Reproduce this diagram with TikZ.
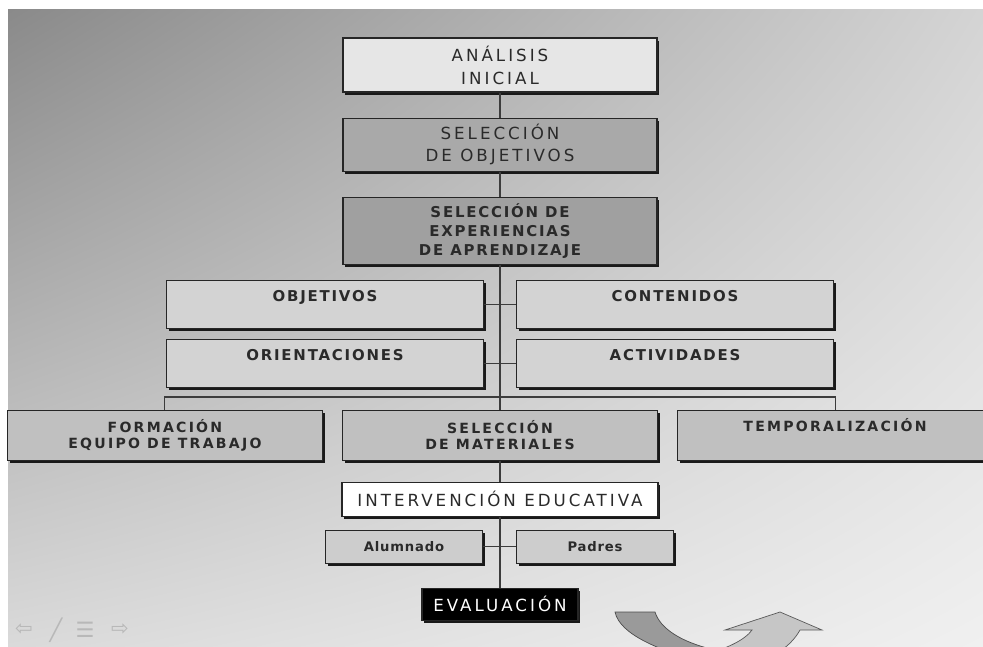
\documentclass[tikz,border=0pt]{standalone}
\usepackage{fontspec}
\setmainfont{DejaVu Sans}
\newfontfamily\lightface{DejaVu Sans}[LetterSpace=18]
\newfontfamily\heavyface{DejaVu Sans}[LetterSpace=12]
\newfontfamily\rowface{DejaVu Sans}[LetterSpace=16]
\newfontfamily\smallface{DejaVu Sans}[LetterSpace=6]
\usepackage{xcolor}
\usepackage{tikz}
\usetikzlibrary{positioning, shadows, shadings}

\definecolor{bgtl}{HTML}{8A8A8A}
\definecolor{bgtr}{HTML}{D4D4D4}
\definecolor{bgbl}{HTML}{DADADA}
\definecolor{bgbr}{HTML}{F0F0F0}
\definecolor{txtdark}{HTML}{2A2A2A}
\definecolor{boxwhite}{HTML}{E6E6E6}
\definecolor{boxmid}{HTML}{A9A9A9}
\definecolor{boxdark}{HTML}{A0A0A0}
\definecolor{boxlight}{HTML}{D3D3D3}
\definecolor{rowgrey}{HTML}{C0C0C0}
\definecolor{smallgrey}{HTML}{CDCDCD}
\definecolor{linegrey}{HTML}{3C3C3C}
\definecolor{arrowdark}{HTML}{9A9A9A}
\definecolor{arrowlight}{HTML}{C6C6C6}
\definecolor{navgrey}{HTML}{B8B8B8}

\begin{document}
\begin{tikzpicture}[node distance=0.5cm, every node/.style={text=txtdark}]
    \tikzstyle{stage} = [rectangle, draw=black!85, line width=0.6pt, minimum width=6.28cm, minimum height=1.08cm, align=center, drop shadow={shadow xshift=1.3pt, shadow yshift=-1.5pt, fill=black!90, opacity=1}]
    \tikzstyle{item} = [stage, fill=boxlight, minimum width=6.34cm, minimum height=0.96cm, inner ysep=5.67pt, text height=6.2pt, text depth=9.7pt, font={\heavyface\bfseries\fontsize{8.5}{11}\selectfont}]
    \tikzstyle{branch} = [stage, fill=rowgrey, minimum width=6.3cm, minimum height=1.0cm, font={\rowface\bfseries\fontsize{8}{8.8}\selectfont}]
    \tikzstyle{small} = [stage, fill=smallgrey, minimum width=3.14cm, minimum height=0.66cm, font={\smallface\bfseries\fontsize{7.5}{8.4}\selectfont}]
    \tikzstyle{link} = [draw=linegrey, line width=0.6pt]
    \tikzstyle{navicon} = [text=navgrey, font=\fontsize{12}{12}\selectfont]

    % slide background
    \useasboundingbox (0,0) rectangle (19.66,-12.94);
    \fill[white] (0,0) rectangle (19.66,-12.94);
    \shade[upper left=bgtl, upper right=bgtr, lower left=bgbl, lower right=bgbr] (0.16,-0.2) rectangle (19.66,-12.94);

    \node[stage, fill=boxwhite, font={\lightface\fontsize{9.5}{13}\selectfont}] (analisis) at (10,-1.3) {ANÁLISIS\\INICIAL};
    \node[stage, fill=boxmid, below=0.5cm of analisis, minimum height=1.06cm, font={\lightface\fontsize{9.5}{12.5}\selectfont}] (objsel) {SELECCIÓN\\DE OBJETIVOS};
    \node[stage, fill=boxdark, below=0.5cm of objsel, minimum height=1.34cm, font={\heavyface\bfseries\fontsize{8.5}{10.8}\selectfont}] (experiencias) {SELECCIÓN DE\\EXPERIENCIAS\\DE APRENDIZAJE};

    \node[item, anchor=north east] (objetivos) at ([xshift=-0.32cm, yshift=-0.3cm]experiencias.south) {OBJETIVOS};
    \node[item, right=0.64cm of objetivos] (contenidos) {CONTENIDOS};
    \node[item, below=0.2cm of objetivos] (orientaciones) {ORIENTACIONES};
    \node[item, below=0.2cm of contenidos] (actividades) {ACTIVIDADES};

    \node[branch, below=2.9cm of experiencias] (materiales) {SELECCIÓN\\DE MATERIALES};
    \node[branch, left=0.38cm of materiales] (formacion) {FORMACIÓN\\EQUIPO DE TRABAJO};
    \node[branch, right=0.38cm of materiales, inner ysep=6.2pt, text height=5.8pt, text depth=10.1pt] (temporal) {TEMPORALIZACIÓN};

    \node[stage, fill=white, below=0.42cm of materiales, minimum width=6.32cm, minimum height=0.68cm, font={\lightface\fontsize{9.5}{10}\selectfont}] (intervencion) {INTERVENCIÓN EDUCATIVA};
    \node[small, anchor=north east] (alumnado) at ([xshift=-0.34cm, yshift=-0.26cm]intervencion.south) {Alumnado};
    \node[small, right=0.66cm of alumnado] (padres) {Padres};
    \node[stage, fill=black, below=1.42cm of intervencion, minimum width=3.12cm, minimum height=0.64cm, text=white, font={\lightface\fontsize{9.5}{10}\selectfont}] (evaluacion) {EVALUACIÓN};

    \coordinate (bar) at (10,-7.94);
    \draw[link] (analisis) -- (objsel);
    \draw[link] (objsel) -- (experiencias);
    \draw[link] (experiencias) -- (materiales);
    \draw[link] (objetivos) -- (contenidos);
    \draw[link] (orientaciones) -- (actividades);
    \draw[link] (formacion.north) -- (formacion.north |- bar) -- (temporal.north |- bar) -- (temporal.north);
    \draw[link] (materiales) -- (intervencion);
    \draw[link] (intervencion) -- (evaluacion);
    \draw[link] (alumnado) -- (padres);

    % turning arrow, cut by the slide edge
    \begin{scope}
        \clip (0.16,-0.2) rectangle (19.66,-12.94);
        \filldraw[fill=arrowdark, draw=gray!60!black, line width=0.4pt] (12.3,-12.24) -- (13.1,-12.24) .. controls (13.2,-12.56) and (13.6,-12.84) .. (14.3,-13.0) -- (14.0,-13.24) .. controls (13.2,-13.0) and (12.4,-12.7) .. (12.3,-12.24) -- cycle;
        \filldraw[fill=arrowlight, draw=gray!70!black, line width=0.4pt] (14.0,-13.1) .. controls (14.5,-13.0) and (14.9,-12.8) .. (15.04,-12.6) -- (14.5,-12.6) -- (15.6,-12.24) -- (16.44,-12.6) -- (16.0,-12.6) .. controls (15.8,-12.96) and (15.4,-13.2) .. (14.8,-13.4) -- cycle;
    \end{scope}

    % slide show controls
    \node[navicon] (navback) at (0.48,-12.6) {⇦};
    \node[navicon] (navpen) at (1.12,-12.6) {╱};
    \node[navicon] (navmenu) at (1.7,-12.6) {☰};
    \node[navicon] (navnext) at (2.4,-12.6) {⇨};
\end{tikzpicture}
\end{document}
